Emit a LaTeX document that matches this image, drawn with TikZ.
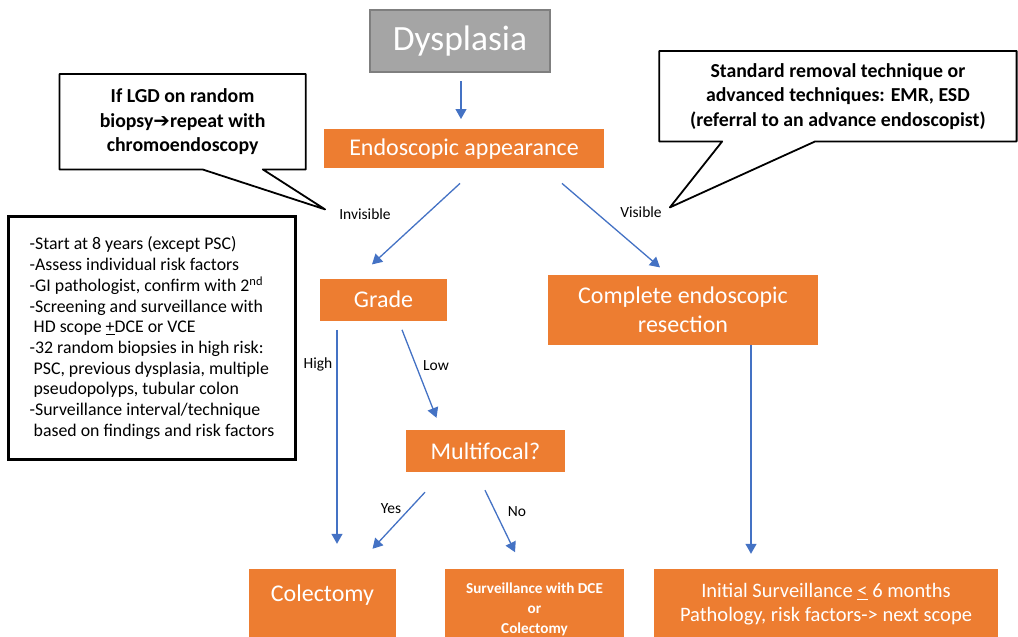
\documentclass[tikz,border=0pt]{standalone}
\usepackage{fontspec}
\setmainfont{Carlito}
\newfontfamily\symfont{DejaVu Sans}
\usetikzlibrary{positioning,arrows.meta}
\definecolor{boxorange}{HTML}{ED7D31}
\definecolor{boxgray}{HTML}{A5A5A5}
\definecolor{boxrim}{HTML}{7F7F7F}
\definecolor{flowblue}{HTML}{4472C4}
\tikzset{
    stepbox/.style={fill=boxorange, text=white, align=center, inner sep=0pt, font=\fontsize{24}{29.5}\selectfont},
    flow/.style={draw=flowblue, line width=1.3pt, -{Triangle[length=10pt,width=11pt]}},
    branch/.style={font=\fontsize{15.5}{18}\selectfont, inner sep=2pt},
    callout/.style={draw=black, line width=1.8pt, line join=round},
    note/.style={font=\bfseries\fontsize{19.8}{24.5}\selectfont, align=center, inner sep=0pt}
}

\begin{document}
\begin{tikzpicture}
    \useasboundingbox (0,0) rectangle (1018pt,-637pt);
    \node [fill=boxgray, draw=boxrim, line width=2pt, text=white, minimum width=180pt, minimum height=62pt, font=\fontsize{35.5}{40}\selectfont] (dys) at (460pt,-41pt) {Dysplasia};
    \node [stepbox, minimum width=280pt, minimum height=39pt, below=56pt of dys, xshift=4pt] (endo) {Endoscopic appearance};
    \node [stepbox, minimum width=127pt, minimum height=42pt, below=110pt of endo, xshift=-80.5pt] (grade) {Grade};
    \node [stepbox, minimum width=270pt, minimum height=70pt, below=106pt of endo, xshift=219pt] (resect) {Complete endoscopic\\resection};
    \node [stepbox, minimum width=159pt, minimum height=42pt, below=109pt of grade, xshift=102pt] (multi) {Multifocal?};
    \node [stepbox, minimum width=147pt, minimum height=70pt, text height=16pt, text depth=22pt, below=248pt of grade, xshift=-61pt] (colect) {Colectomy};
    \node [stepbox, minimum width=179pt, minimum height=80pt, below=97pt of multi, xshift=49pt, font=\bfseries\fontsize{15.2}{20}\selectfont] (dce) {Surveillance with DCE\\or\\Colectomy};
    \node [stepbox, minimum width=344pt, minimum height=70pt, below=224pt of resect, xshift=143pt, font=\fontsize{20.5}{24}\selectfont] (initial) {Initial Surveillance \underline{<} 6 months\\Pathology, risk factors-> next scope};
    \node [note, minimum width=246pt, minimum height=95pt, left=18pt of endo, yshift=27pt] (lgd) {If LGD on random\\biopsy{\symfont\mdseries ➔}repeat with\\chromoendoscopy};
    \node [note, minimum width=357pt, minimum height=90pt, right=55pt of endo, yshift=52.5pt] (std) {Standard removal technique or\\advanced techniques: EMR, ESD\\(referral to an advance endoscopist)};
    \node [draw, line width=2.6pt, minimum width=287pt, minimum height=243pt, align=left, font=\fontsize{17.8}{20.7}\selectfont, left=23pt of grade, yshift=-38.5pt] (risk) {-Start at 8 years (except PSC)\\
        -Assess individual risk factors\\
        -GI pathologist, confirm with 2\textsuperscript{nd}\\
        -Screening and surveillance with\\
        \hspace*{4pt}HD scope \underline{+}DCE or VCE\\
        -32 random biopsies in high risk:\\
        \hspace*{4pt}PSC, previous dysplasia, multiple\\
        \hspace*{4pt}pseudopolyps, tubular colon\\
        -Surveillance interval/technique\\
        \hspace*{4pt}based on findings and risk factors};
    \node [branch] (inv) at ([shift={(-99pt,-46pt)}]endo.south) {Invisible};
    \node [branch] (vis) at ([shift={(177pt,-44pt)}]endo.south) {Visible};
    \node [branch] (high) at ([shift={(-65.5pt,-44pt)}]grade.south) {High};
    \node [branch] (low) at ([shift={(52.5pt,-45pt)}]grade.south) {Low};
    \node [branch] (yes) at ([shift={(-94.5pt,-36pt)}]multi.south) {Yes};
    \node [branch] (no) at ([shift={(31.5pt,-39pt)}]multi.south) {No};
    \coordinate (invtip) at ([shift={(-12pt,5pt)}]inv.west);
    \coordinate (vistip) at ([shift={(6pt,5pt)}]vis.east);
    \draw [callout] (lgd.south west) -- (lgd.north west) -- (lgd.north east) -- (lgd.south east) -- ([xshift=-43pt]lgd.south east) -- (invtip) -- ([xshift=143pt]lgd.south west) -- cycle;
    \draw [callout] (std.south west) -- (std.north west) -- (std.north east) -- (std.south east) -- ([xshift=156pt]std.south west) -- (vistip) -- ([xshift=63pt]std.south west) -- cycle;
    \draw [flow] ([shift={(1pt,-8pt)}]dys.south) -- ([shift={(-3pt,10pt)}]endo.north);
    \draw [flow] ([shift={(-4pt,-15pt)}]endo.south) -- ([shift={(-11.5pt,14pt)}]grade.north);
    \draw [flow] ([shift={(98pt,-15pt)}]endo.south) -- ([shift={(-23pt,7pt)}]resect.north);
    \draw [flow] ([shift={(-46.5pt,-9pt)}]grade.south) -- ([shift={(14.5pt,25pt)}]colect.north);
    \draw [flow] ([shift={(18.5pt,-9pt)}]grade.south) -- ([shift={(-49pt,12pt)}]multi.north);
    \draw [flow] ([shift={(-60.5pt,-20pt)}]multi.south) -- ([shift={(50pt,20pt)}]colect.north);
    \draw [flow] ([shift={(-0.5pt,-18pt)}]multi.south) -- ([shift={(-19.5pt,17pt)}]dce.north);
    \draw [flow] ([shift={(68pt,0pt)}]resect.south) -- ([shift={(-75pt,15pt)}]initial.north);
\end{tikzpicture}
\end{document}
